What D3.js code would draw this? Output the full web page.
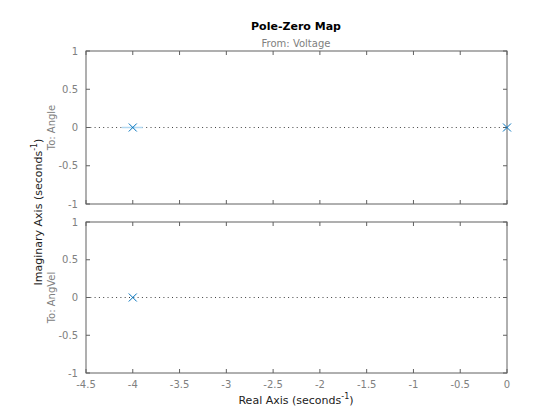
<!DOCTYPE html>
<html><head><meta charset="utf-8">
<script src="https://cdn.jsdelivr.net/npm/d3@7"></script>
<style>body{margin:0;background:#fff}svg{display:block;font-family:"DejaVu Sans",sans-serif}</style>
</head><body><svg id="c" width="560" height="420"></svg>
<script>
const outputs = ["To: Angle", "To: AngVel"];
const poleRe = [[-4, 0], [-4]];
const poleIm = [[0, 0], [0]];
const xTicks = [-4.5, -4, -3.5, -3, -2.5, -2, -1.5, -1, -0.5, 0];
const xTickLabels = ["-4.5", "-4", "-3.5", "-3", "-2.5", "-2", "-1.5", "-1", "-0.5", "0"];
const yTicks = [-1, -0.5, 0, 0.5, 1];
const yTickLabels = ["-1", "-0.5", "0", "0.5", "1"];
const xDomain = [-4.5, 0];
const yDomain = [-1, 1];

const svg = d3.select("#c");
const left = 86, right = 507;
const panels = [[51, 204], [222, 373]];
const axisCol = "#606060", labCol = "#808080";
const x = d3.scaleLinear().domain(xDomain).range([left, right]);

svg.append("text").attr("x", 296).attr("y", 30).attr("text-anchor", "middle")
  .attr("font-size", 11).attr("font-weight", "bold").attr("fill", "#000").text("Pole-Zero Map");
svg.append("text").attr("x", 296).attr("y", 47).attr("text-anchor", "middle")
  .attr("font-size", 10).attr("fill", labCol).text("From: Voltage");

panels.forEach((p, i) => {
  const y = d3.scaleLinear().domain(yDomain).range([p[1], p[0]]);
  const g = svg.append("g");
  g.append("line").attr("x1", left).attr("x2", right).attr("y1", y(0)).attr("y2", y(0))
    .attr("stroke", "#404040").attr("stroke-width", 1).attr("stroke-dasharray", "1,3.3");
  const tl = 4;
  xTicks.forEach(t => {
    g.append("line").attr("x1", x(t)).attr("x2", x(t)).attr("y1", p[1]).attr("y2", p[1] - tl).attr("stroke", axisCol);
    g.append("line").attr("x1", x(t)).attr("x2", x(t)).attr("y1", p[0]).attr("y2", p[0] + tl).attr("stroke", axisCol);
  });
  yTicks.forEach((t, k) => {
    g.append("line").attr("x1", left).attr("x2", left + tl).attr("y1", y(t)).attr("y2", y(t)).attr("stroke", axisCol);
    g.append("line").attr("x1", right).attr("x2", right - tl).attr("y1", y(t)).attr("y2", y(t)).attr("stroke", axisCol);
    g.append("text").attr("x", left - 8).attr("y", y(t) + 3.5).attr("text-anchor", "end")
      .attr("font-size", 10).attr("fill", labCol).text(yTickLabels[k]);
  });
  g.append("rect").attr("x", left).attr("y", p[0]).attr("width", right - left).attr("height", p[1] - p[0])
    .attr("fill", "none").attr("stroke", axisCol).attr("stroke-width", 1);
  if (i === 1) {
    xTicks.forEach((t, k) => {
      g.append("text").attr("x", x(t)).attr("y", p[1] + 15).attr("text-anchor", "middle")
        .attr("font-size", 10).attr("fill", labCol).text(xTickLabels[k]);
    });
  }
  g.append("text").attr("transform", `translate(55,${(p[0] + p[1]) / 2}) rotate(-90)`)
    .attr("text-anchor", "middle").attr("font-size", 10).attr("fill", labCol).text(outputs[i]);
  if (i === 0) {
    g.append("line").attr("x1", x(poleRe[0][0]) - 11).attr("x2", x(poleRe[0][0]) + 10)
      .attr("y1", y(0)).attr("y2", y(0)).attr("stroke", "#b3d9f2").attr("stroke-width", 1.5);
  }
  poleRe[i].forEach((re, k) => {
    const cx = x(re), cy = y(poleIm[i][k]), s = 4;
    g.append("path").attr("d", `M${cx - s},${cy - s}L${cx + s},${cy + s}M${cx - s},${cy + s}L${cx + s},${cy - s}`)
      .attr("stroke", "#0072BD").attr("stroke-width", 1).attr("fill", "none");
  });
});

const yl = svg.append("text").attr("transform", `translate(42,212) rotate(-90)`)
  .attr("text-anchor", "middle").attr("font-size", 11).attr("fill", "#222");
yl.append("tspan").text("Imaginary Axis (seconds");
yl.append("tspan").attr("font-size", 8).attr("dy", -5).text("-1");
yl.append("tspan").attr("dy", 5).text(")");

const xl = svg.append("text").attr("x", 296).attr("y", 404)
  .attr("text-anchor", "middle").attr("font-size", 11).attr("fill", "#222");
xl.append("tspan").text("Real Axis (seconds");
xl.append("tspan").attr("font-size", 8).attr("dy", -5).text("-1");
xl.append("tspan").attr("dy", 5).text(")");
</script></body></html>
